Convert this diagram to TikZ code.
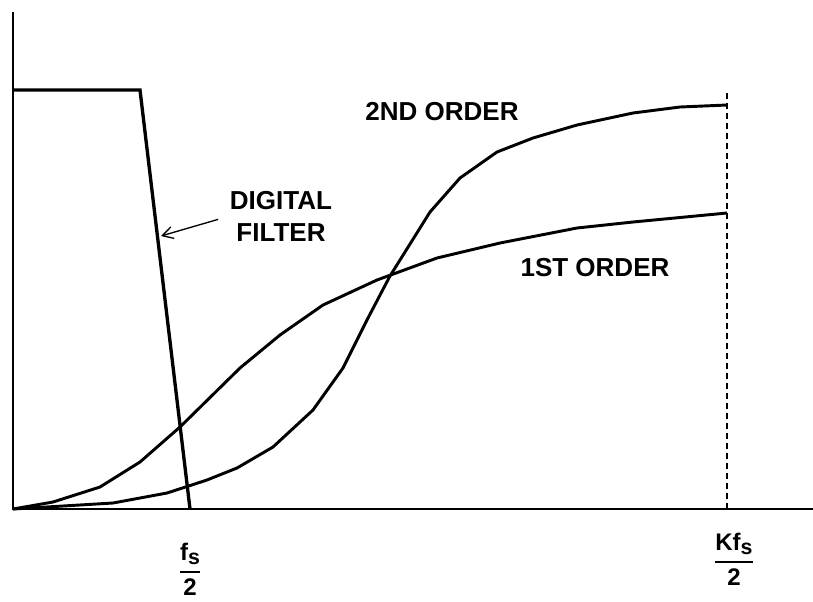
\documentclass[tikz,border=0pt]{standalone}
\usepackage{amsmath}
\usepackage{fontspec}
\setmainfont{Liberation Sans}
\usetikzlibrary{arrows.meta}

\begin{document}
\begin{tikzpicture}[
    x=0.75pt, y=-0.75pt,
    axis/.style  = {line width=1.3pt},
    resp/.style  = {line width=2.2pt, line join=round},
    filt/.style  = {line width=2.5pt, line join=miter},
    lbl/.style   = {font=\bfseries\fontsize{19.5}{24}\selectfont, align=center, inner sep=0pt},
    frq/.style   = {font=\bfseries\fontsize{18}{20}\selectfont, inner sep=0pt},
    pointer/.style = {line width=1pt, -{Straight Barb[length=8pt,width=9pt]}}
                    ]
\useasboundingbox (0,0) rectangle (813,601);
% axes
\coordinate (o)    at (13,509);
\coordinate (ytop) at (13,12);
\coordinate (xend) at (813,509);
\draw[axis] (ytop) -- (o) -- (xend);
% Kf_s/2 limit
\coordinate (kf)    at (727,509);
\coordinate (kftop) at (727,93);
\draw[line width=1.2pt, dash pattern=on 4.5pt off 3pt] (kf) -- (kftop);
% digital filter
\coordinate (pass) at (13,90);
\coordinate (edge) at (140,90);
\coordinate (fs)   at (190,509);
\draw[filt] (pass) -- (edge) -- (fs);
% analog responses
\draw[resp] plot coordinates {(13,509) (53,502) (100,487) (140,462) (180,427)
    (240,368) (280,335) (323,305) (377,280) (437,258) (500,243) (577,228)
    (633,222) (727,213)};
\draw[resp] plot coordinates {(13,509) (113,503) (167,493) (207,480) (237,468)
    (273,447) (313,410) (343,368) (368,318) (390,276) (430,212) (460,178)
    (497,152) (533,138) (577,125) (633,113) (680,107) (727,105)};
% labels
\node (dflt) [lbl] at (281,216) {DIGITAL\\ FILTER};
\node (ord2) [lbl] at (442,112) {2ND ORDER};
\node (ord1) [lbl] at (595,268) {1ST ORDER};
\coordinate (ftip) at (161,236);
\draw[pointer, shorten <=9pt] (dflt.west) -- (ftip);
\node (fsl) [frq] at (190,569)
    {$\genfrac{}{}{1.5pt}{0}{\text{f\raisebox{-0.35ex}{\fontsize{16}{16}\selectfont s}}}{\text{2}}$};
\node (kfl) [frq] at (734,559)
    {$\genfrac{}{}{1.5pt}{0}{\text{Kf\raisebox{-0.35ex}{\fontsize{16}{16}\selectfont s}}}{\text{2}}$};
\end{tikzpicture}
\end{document}
